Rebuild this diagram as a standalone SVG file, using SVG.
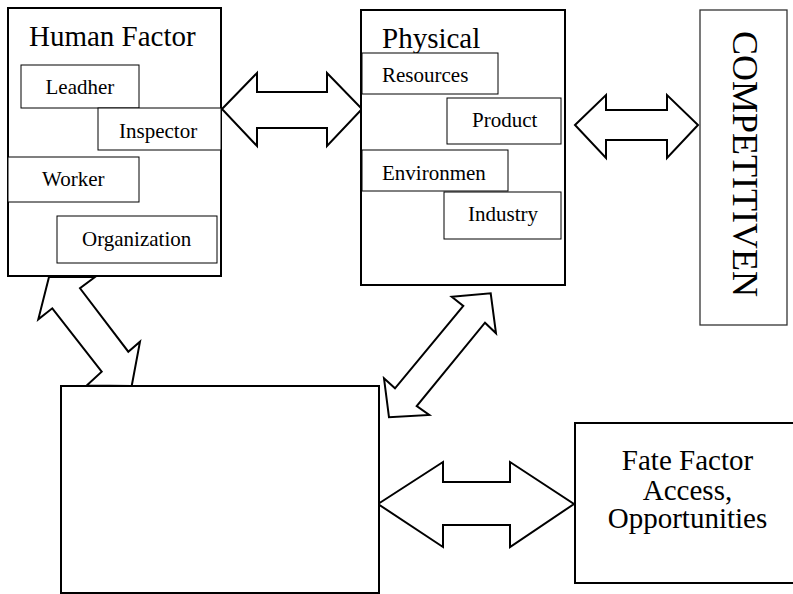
<svg xmlns="http://www.w3.org/2000/svg" width="793" height="594" viewBox="0 0 793 594">
<style>
.big{fill:#fff;stroke:#000;stroke-width:2}
.small{fill:#fff;stroke:#000;stroke-width:1}
.arrow{fill:#fff;stroke:#000;stroke-width:2;stroke-linejoin:miter}
text{font-family:"Liberation Serif","Times New Roman",serif;fill:#000}
.t1{font-size:29px}
.t2{font-size:21px}
</style>
<rect width="793" height="594" fill="#fff"/>
<g id="connectors">
<polygon class="arrow" points="222,109 257,73 257,92 327,92 327,73 362,109 327,146 327,128 257,128 257,146"/>
<polygon class="arrow" points="575,125 606,95 606,110 667,110 667,95 698,125 667,158 667,140 606,140 606,158"/>
<polygon class="arrow" points="378,504 443,462 443,482 510,482 510,462 574,504 510,547 510,525 443,525 443,547"/>
<polygon class="arrow" points="49,277 38.3,319.3 52.3,308.3 101.7,371.7 86.7,385.5 131.7,386 140,341.7 128.3,351.7 80,288.3 95,277"/>
<polygon class="arrow" points="451.7,296.7 463.3,306 395,388.3 384,378.3 389,417.3 429.3,415 416.7,406 485,322.7 496,333.3 490.7,293.3"/>
</g>
<g id="human-factor">
<rect class="big" x="8" y="8" width="213" height="268"/>
<text class="t1" x="29" y="46">Human Factor</text>
<g id="leadher"><rect class="small" x="21" y="65" width="118" height="43"/><text class="t2" x="45.5" y="94">Leadher</text></g>
<g id="inspector"><rect class="small" x="98" y="108" width="123" height="42"/><text class="t2" x="119" y="138">Inspector</text></g>
<g id="worker"><rect class="small" x="8" y="157" width="131" height="45"/><text class="t2" x="42" y="186">Worker</text></g>
<g id="organization"><rect class="small" x="57" y="216" width="160" height="47"/><text class="t2" x="82" y="246">Organization</text></g>
</g>
<g id="physical">
<rect class="big" x="361" y="10" width="204" height="275"/>
<text class="t1" x="382" y="48">Physical</text>
<g id="resources"><rect class="small" x="362" y="53" width="136" height="41"/><text class="t2" x="382" y="82">Resources</text></g>
<g id="product"><rect class="small" x="447" y="98" width="114" height="46"/><text class="t2" x="472" y="127">Product</text></g>
<g id="environmen"><rect class="small" x="362" y="150" width="146" height="41"/><text class="t2" x="382" y="180">Environmen</text></g>
<g id="industry"><rect class="small" x="444" y="192" width="117" height="47"/><text class="t2" x="468" y="221">Industry</text></g>
</g>
<g id="competitiven">
<rect x="700" y="10" width="87" height="315" fill="#fff" stroke="#333" stroke-width="1.3"/>
<text font-size="36" transform="translate(733,31) rotate(90)" x="0" y="0">COMPETITIVEN</text>
</g>
<g id="bottom-box">
<rect class="big" x="61" y="386" width="318" height="207"/>
</g>
<g id="fate-factor">
<rect class="big" x="575" y="423" width="224" height="160"/>
<text class="t1" x="687.5" y="470" text-anchor="middle">Fate Factor</text>
<text class="t1" x="687.5" y="500" text-anchor="middle">Access,</text>
<text class="t1" x="687.5" y="528" text-anchor="middle">Opportunities</text>
</g>
</svg>
